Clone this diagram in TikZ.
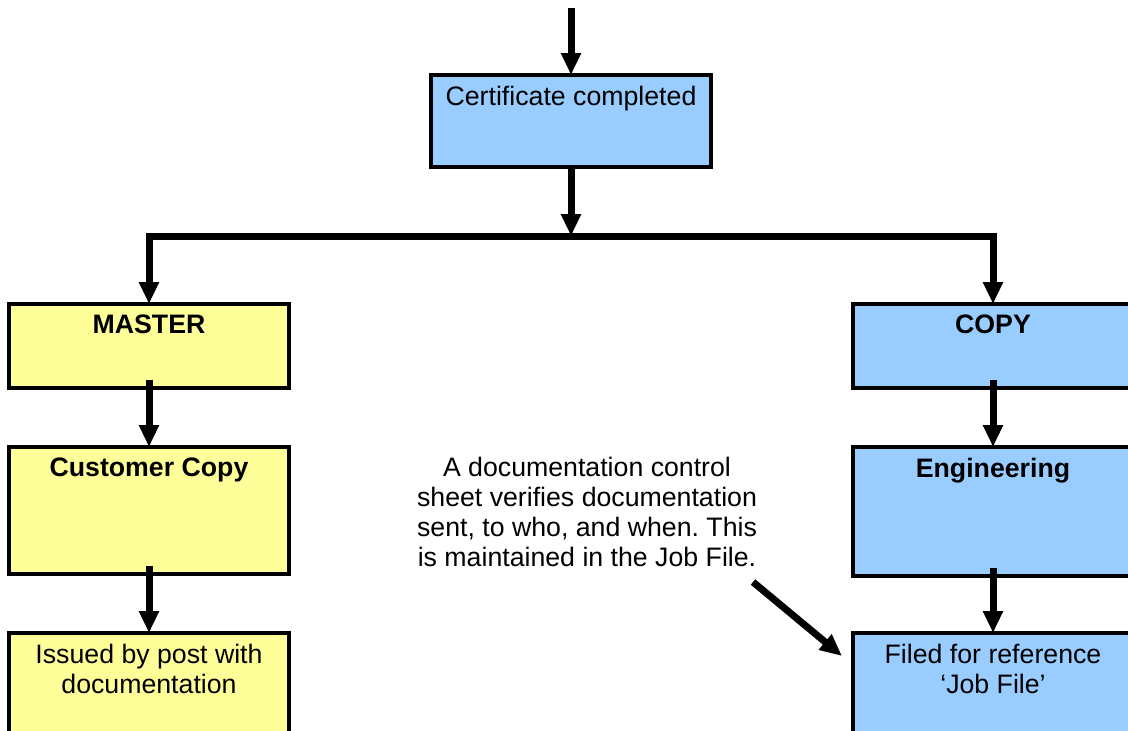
\documentclass[tikz,border=0pt]{standalone}
\usepackage{fontspec}
\setmainfont{Liberation Sans}
\usetikzlibrary{arrows.meta}
\definecolor{boxblue}{HTML}{99CCFF}
\definecolor{boxyellow}{HTML}{FFFF99}
\frenchspacing
\begin{document}
\begin{tikzpicture}[x=1pt,y=-1pt,
  box/.style={draw, line width=3.5pt, minimum width=280pt, inner sep=0pt, outer sep=0pt, anchor=north west},
  bbox/.style={box, fill=boxblue},
  ybox/.style={box, fill=boxyellow},
  lbl/.style={anchor=north, inner sep=0pt, align=center, font=\fontsize{26.7}{30}\selectfont},
  blbl/.style={lbl, font=\fontsize{26.7}{30}\selectfont\bfseries},
  arr/.style={line width=7pt, -{Triangle[length=22pt,width=19pt]}}]
\useasboundingbox (0,0) rectangle (1128,731);
\clip (0,0) rectangle (1128,731);
% boxes
\node[bbox, minimum height=92pt] (cert) at (431,75) {};
\node[ybox, minimum height=84pt] (master) at (9,304) {};
\node[ybox, minimum height=127pt] (cust) at (9,447) {};
\node[ybox, minimum height=130pt] (issued) at (9,633) {};
\node[bbox, minimum height=84pt] (copy) at (853,304) {};
\node[bbox, minimum height=129pt] (eng) at (853,447) {};
\node[bbox, minimum height=130pt] (filed) at (853,633) {};
% texts
\node[lbl] (certt) at ([yshift=-11pt]cert.north) {Certificate completed};
\node[blbl] (mastert) at ([yshift=-11pt]master.north) {MASTER};
\node[blbl] (custt) at ([yshift=-11pt]cust.north) {Customer Copy};
\node[lbl] (issuedt) at ([yshift=-11pt]issued.north) {Issued by post with\\documentation};
\node[blbl] (copyt) at ([yshift=-11pt]copy.north) {COPY};
\node[blbl] (engt) at ([yshift=-11pt]eng.north) {Engineering};
\node[lbl] (filedt) at ([yshift=-11pt]filed.north) {Filed for reference\\`Job File'};
\node[lbl] (note) at (587,457) {A documentation control\\sheet verifies documentation\\sent, to who, and when. This\\is maintained in the Job File.};
% connectors
\coordinate (top) at ([yshift=67pt]cert.north);
\coordinate (j) at ([yshift=-69pt]cert.south);
\coordinate (ds) at (753,582);
\coordinate (de) at (842,656);
\draw[arr] (top) -- (cert.north);
\draw[arr] (cert.south) -- (j);
\draw[arr] (j) -| (master.north);
\draw[arr] (j) -| (copy.north);
\draw[arr] ([yshift=8pt]master.south) -- (cust.north);
\draw[arr] ([yshift=8pt]cust.south) -- (issued.north);
\draw[arr] ([yshift=8pt]copy.south) -- (eng.north);
\draw[arr] ([yshift=8pt]eng.south) -- (filed.north);
\draw[arr] (ds) -- (de);
\end{tikzpicture}
\end{document}
